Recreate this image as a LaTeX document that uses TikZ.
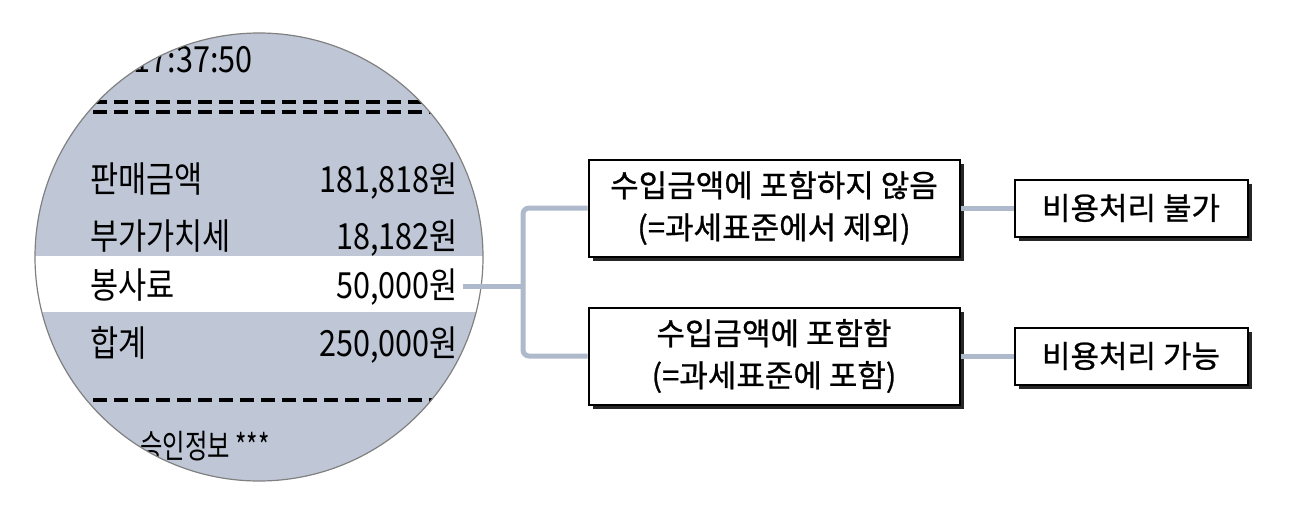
\documentclass[tikz,border=0pt]{standalone}
\usepackage{fontspec}
\setmainfont{Noto Sans CJK KR}
\newfontfamily\receiptfont[FakeStretch=0.85]{Noto Sans CJK KR}
\newfontfamily\footfont[FakeStretch=0.74]{Noto Sans CJK KR}
\newfontfamily\boxfont[FakeBold=0.8]{Noto Sans CJK KR}
\usetikzlibrary{shadows}

\definecolor{lensfill}{HTML}{BFC7D6}
\definecolor{linkgray}{HTML}{AEB9CB}

\begin{document}
\begin{tikzpicture}[x=1pt, y=-1pt,
  rowtext/.style={font=\receiptfont\fontsize{36}{36}\selectfont, inner sep=0pt},
  dashrow/.style={line width=4pt, dash pattern=on 14pt off 7pt},
  box/.style={draw=black, line width=2pt, fill=white, align=center,
    font=\boxfont\fontsize{31}{42}\selectfont,
    drop shadow={shadow xshift=4.5pt, shadow yshift=-4.5pt, fill=black!85, opacity=1}},
  link/.style={draw=linkgray, line width=5pt, rounded corners=6pt}]

%frame
\useasboundingbox (0,0) rectangle (1289,525);

%lens
\begin{scope}
\clip (259,257) circle (224pt);
\fill[lensfill] (30,30) rectangle (490,485);
\fill[white] (30,256) rectangle (490,312);

%receipt head
\node[rowtext, anchor=base east] (time) at (253,72) {17:37:50};
\draw[dashrow] (30,102) -- (490,102);
\draw[dashrow] (30,112) -- (490,112);

%receipt rows
\node[rowtext, anchor=base west] (sale) at (90,192) {판매금액};
\node[rowtext, anchor=base east] (saleval) at (458,192) {181,818원};
\node[rowtext, anchor=base west] (vat) at (90,249) {부가가치세};
\node[rowtext, anchor=base east] (vatval) at (458,249) {18,182원};
\node[rowtext, anchor=base west] (tip) at (90,298) {봉사료};
\node[rowtext, anchor=base east] (tipval) at (458,298) {50,000원};
\node[rowtext, anchor=base west] (total) at (90,356) {합계};
\node[rowtext, anchor=base east] (totalval) at (458,356) {250,000원};

%receipt foot
\draw[dashrow] (30,400) -- (490,400);
\node[rowtext, font=\footfont\fontsize{33}{33}\selectfont, anchor=base east] (approval)
  at (270,458) {승인정보 ***};
\end{scope}
\draw[black!50, line width=1.2pt] (259,257) circle (224pt);

%boxes
\node[box, minimum width=371pt, minimum height=97pt] (notincl) at (774,208)
  {수입금액에 포함하지 않음\\(=과세표준에서 제외)};
\node[box, minimum width=371pt, minimum height=97pt] (incl) at (774,356)
  {수입금액에 포함함\\(=과세표준에 포함)};
\node[box, minimum width=233pt, minimum height=57pt] (nocost) at (1131,208) {비용처리 불가};
\node[box, minimum width=233pt, minimum height=57pt] (cost) at (1131,356) {비용처리 가능};

%links
\coordinate (fork) at ([xshift=65pt]tipval.east);
\draw[link] ([xshift=5pt]tipval.east) -- (fork);
\draw[link] (notincl.west) -| (fork) |- (incl.west);
\draw[link] (notincl.east) -- (nocost.west);
\draw[link] (incl.east) -- (cost.west);

\end{tikzpicture}
\end{document}
